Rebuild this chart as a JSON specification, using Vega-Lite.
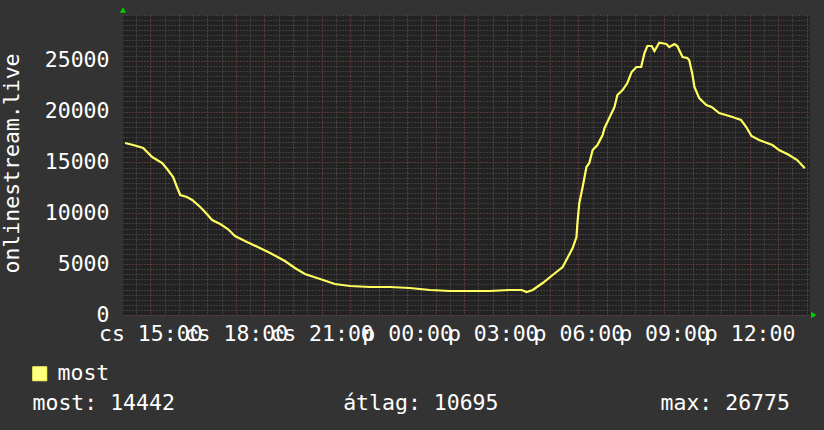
{
  "$schema": "https://vega.github.io/schema/vega-lite/v6.json",
  "width": 687,
  "height": 300,
  "autosize": {"type": "none"},
  "padding": {"left": 123, "top": 15, "right": 14, "bottom": 115},
  "background": "#333333",
  "config": {
    "view": {"fill": "#222222", "stroke": null},
    "axis": {
      "labelFont": "DejaVu Sans Mono",
      "labelFontSize": 21.5,
      "labelColor": "#ffffff",
      "titleFont": "DejaVu Sans Mono",
      "titleFontSize": 21.5,
      "titleColor": "#ffffff",
      "titleFontWeight": "normal",
      "ticks": false,
      "domain": false,
      "labelFlush": false,
      "labelOverlap": false
    },
    "legend": {
      "labelFont": "DejaVu Sans Mono",
      "labelFontSize": 21.5,
      "labelColor": "#ffffff"
    }
  },
  "data": {"values": [
      {"t": "2024-01-11T14:07:00Z", "v": 16913, "series": "most"},
      {"t": "2024-01-11T14:24:00Z", "v": 16716, "series": "most"},
      {"t": "2024-01-11T14:45:00Z", "v": 16421, "series": "most"},
      {"t": "2024-01-11T15:04:00Z", "v": 15536, "series": "most"},
      {"t": "2024-01-11T15:25:00Z", "v": 14946, "series": "most"},
      {"t": "2024-01-11T15:37:00Z", "v": 14258, "series": "most"},
      {"t": "2024-01-11T15:48:00Z", "v": 13570, "series": "most"},
      {"t": "2024-01-11T15:56:00Z", "v": 12586, "series": "most"},
      {"t": "2024-01-11T16:03:00Z", "v": 11800, "series": "most"},
      {"t": "2024-01-11T16:17:00Z", "v": 11603, "series": "most"},
      {"t": "2024-01-11T16:28:00Z", "v": 11308, "series": "most"},
      {"t": "2024-01-11T16:45:00Z", "v": 10620, "series": "most"},
      {"t": "2024-01-11T16:57:00Z", "v": 10030, "series": "most"},
      {"t": "2024-01-11T17:10:00Z", "v": 9341, "series": "most"},
      {"t": "2024-01-11T17:27:00Z", "v": 8948, "series": "most"},
      {"t": "2024-01-11T17:43:00Z", "v": 8456, "series": "most"},
      {"t": "2024-01-11T17:58:00Z", "v": 7768, "series": "most"},
      {"t": "2024-01-11T18:19:00Z", "v": 7276, "series": "most"},
      {"t": "2024-01-11T18:46:00Z", "v": 6686, "series": "most"},
      {"t": "2024-01-11T19:12:00Z", "v": 6096, "series": "most"},
      {"t": "2024-01-11T19:43:00Z", "v": 5310, "series": "most"},
      {"t": "2024-01-11T20:04:00Z", "v": 4622, "series": "most"},
      {"t": "2024-01-11T20:25:00Z", "v": 4032, "series": "most"},
      {"t": "2024-01-11T20:57:00Z", "v": 3540, "series": "most"},
      {"t": "2024-01-11T21:28:00Z", "v": 3048, "series": "most"},
      {"t": "2024-01-11T22:00:00Z", "v": 2852, "series": "most"},
      {"t": "2024-01-11T22:42:00Z", "v": 2753, "series": "most"},
      {"t": "2024-01-11T23:24:00Z", "v": 2753, "series": "most"},
      {"t": "2024-01-12T00:05:00Z", "v": 2655, "series": "most"},
      {"t": "2024-01-12T00:48:00Z", "v": 2458, "series": "most"},
      {"t": "2024-01-12T01:30:00Z", "v": 2360, "series": "most"},
      {"t": "2024-01-12T02:11:00Z", "v": 2360, "series": "most"},
      {"t": "2024-01-12T02:53:00Z", "v": 2360, "series": "most"},
      {"t": "2024-01-12T03:35:00Z", "v": 2458, "series": "most"},
      {"t": "2024-01-12T04:01:00Z", "v": 2458, "series": "most"},
      {"t": "2024-01-12T04:11:00Z", "v": 2262, "series": "most"},
      {"t": "2024-01-12T04:24:00Z", "v": 2458, "series": "most"},
      {"t": "2024-01-12T04:45:00Z", "v": 3147, "series": "most"},
      {"t": "2024-01-12T05:06:00Z", "v": 3933, "series": "most"},
      {"t": "2024-01-12T05:27:00Z", "v": 4720, "series": "most"},
      {"t": "2024-01-12T05:37:00Z", "v": 5605, "series": "most"},
      {"t": "2024-01-12T05:48:00Z", "v": 6588, "series": "most"},
      {"t": "2024-01-12T05:56:00Z", "v": 7670, "series": "most"},
      {"t": "2024-01-12T05:58:00Z", "v": 9046, "series": "most"},
      {"t": "2024-01-12T06:02:00Z", "v": 11013, "series": "most"},
      {"t": "2024-01-12T06:09:00Z", "v": 12586, "series": "most"},
      {"t": "2024-01-12T06:17:00Z", "v": 14553, "series": "most"},
      {"t": "2024-01-12T06:23:00Z", "v": 14946, "series": "most"},
      {"t": "2024-01-12T06:30:00Z", "v": 16224, "series": "most"},
      {"t": "2024-01-12T06:40:00Z", "v": 16716, "series": "most"},
      {"t": "2024-01-12T06:51:00Z", "v": 17700, "series": "most"},
      {"t": "2024-01-12T06:55:00Z", "v": 18388, "series": "most"},
      {"t": "2024-01-12T07:05:00Z", "v": 19371, "series": "most"},
      {"t": "2024-01-12T07:16:00Z", "v": 20453, "series": "most"},
      {"t": "2024-01-12T07:22:00Z", "v": 21633, "series": "most"},
      {"t": "2024-01-12T07:33:00Z", "v": 22124, "series": "most"},
      {"t": "2024-01-12T07:43:00Z", "v": 22813, "series": "most"},
      {"t": "2024-01-12T07:52:00Z", "v": 23894, "series": "most"},
      {"t": "2024-01-12T08:02:00Z", "v": 24386, "series": "most"},
      {"t": "2024-01-12T08:12:00Z", "v": 24386, "series": "most"},
      {"t": "2024-01-12T08:19:00Z", "v": 25763, "series": "most"},
      {"t": "2024-01-12T08:25:00Z", "v": 26451, "series": "most"},
      {"t": "2024-01-12T08:34:00Z", "v": 26451, "series": "most"},
      {"t": "2024-01-12T08:40:00Z", "v": 25960, "series": "most"},
      {"t": "2024-01-12T08:50:00Z", "v": 26775, "series": "most"},
      {"t": "2024-01-12T09:05:00Z", "v": 26647, "series": "most"},
      {"t": "2024-01-12T09:11:00Z", "v": 26352, "series": "most"},
      {"t": "2024-01-12T09:22:00Z", "v": 26647, "series": "most"},
      {"t": "2024-01-12T09:28:00Z", "v": 26451, "series": "most"},
      {"t": "2024-01-12T09:39:00Z", "v": 25369, "series": "most"},
      {"t": "2024-01-12T09:49:00Z", "v": 25271, "series": "most"},
      {"t": "2024-01-12T09:53:00Z", "v": 25074, "series": "most"},
      {"t": "2024-01-12T10:00:00Z", "v": 23599, "series": "most"},
      {"t": "2024-01-12T10:04:00Z", "v": 22419, "series": "most"},
      {"t": "2024-01-12T10:14:00Z", "v": 21338, "series": "most"},
      {"t": "2024-01-12T10:29:00Z", "v": 20649, "series": "most"},
      {"t": "2024-01-12T10:40:00Z", "v": 20453, "series": "most"},
      {"t": "2024-01-12T10:56:00Z", "v": 19863, "series": "most"},
      {"t": "2024-01-12T11:24:00Z", "v": 19469, "series": "most"},
      {"t": "2024-01-12T11:42:00Z", "v": 19174, "series": "most"},
      {"t": "2024-01-12T11:53:00Z", "v": 18486, "series": "most"},
      {"t": "2024-01-12T12:04:00Z", "v": 17601, "series": "most"},
      {"t": "2024-01-12T12:20:00Z", "v": 17208, "series": "most"},
      {"t": "2024-01-12T12:48:00Z", "v": 16716, "series": "most"},
      {"t": "2024-01-12T13:02:00Z", "v": 16224, "series": "most"},
      {"t": "2024-01-12T13:23:00Z", "v": 15733, "series": "most"},
      {"t": "2024-01-12T13:40:00Z", "v": 15241, "series": "most"},
      {"t": "2024-01-12T13:56:00Z", "v": 14442, "series": "most"}
  ]},
  "layer": [
    {
      "mark": {"type": "line", "strokeOpacity": 0},
      "encoding": {
        "x": {
          "field": "t", "type": "temporal",
          "scale": {"type": "utc", "domain": [1704981756000, 1705068420000]},
          "axis": {
            "orient": "bottom", "tickCount": 48, "labels": false,
            "grid": true, "gridColor": "#5a5a5a", "gridDash": [1, 2], "gridWidth": 1,
            "title": "max: 26775",
            "titleX": 537, "titleY": 94, "titleAlign": "left", "titleAnchor": "start", "titleBaseline": "alphabetic"
          }
        },
        "y": {
          "field": "v", "type": "quantitative",
          "scale": {"domain": [0, 29500], "nice": false},
          "axis": {"orient": "left", "tickCount": 59, "labels": false, "title": null, "grid": true, "gridColor": "#5a5a5a", "gridDash": [1, 2], "gridWidth": 1}
        }
      }
    },
    {
      "mark": {"type": "line", "strokeWidth": 2.2},
      "encoding": {
        "x": {
          "field": "t", "type": "temporal",
          "axis": {
            "orient": "bottom",
            "tickCount": 24,
            "grid": true, "gridColor": "#7a3434", "gridDash": [1, 2], "gridWidth": 1,
            "labelExpr": "utchours(datum.value) % 3 == 0 ? ((utcdate(datum.value) == 11 ? 'cs ' : 'p ') + utcFormat(datum.value, '%H:%M')) : ''",
            "labelPadding": 8,
            "title": "most: 14442\u00a0\u00a0\u00a0\u00a0\u00a0\u00a0\u00a0\u00a0\u00a0\u00a0\u00a0\u00a0\u00a0átlag: 10695",
            "titleX": -91, "titleY": 94, "titleAlign": "left", "titleAnchor": "start", "titleBaseline": "alphabetic"
          }
        },
        "y": {
          "field": "v", "type": "quantitative",
          "axis": {
            "orient": "left",
            "values": [0, 5000, 10000, 15000, 20000, 25000],
            "format": "d",
            "grid": true, "gridColor": "#7a3434", "gridDash": [1, 2], "gridWidth": 1,
            "labelPadding": 14,
            "title": "onlinestream.live",
            "titleAngle": -90, "titleX": -111, "titleY": 148, "titleAlign": "center", "titleAnchor": "middle", "titleBaseline": "middle"
          }
        },
        "color": {
          "field": "series", "type": "nominal",
          "scale": {"domain": ["most"], "range": ["#ffff60"]},
          "legend": {
            "title": null, "orient": "none", "legendX": -94, "legendY": 348,
            "symbolType": "square", "symbolSize": 196, "labelOffset": 7,
            "symbolFillColor": "#ffff80", "symbolStrokeColor": "#000000", "symbolStrokeWidth": 1
          }
        }
      }
    },
    {
      "data": {"values": [{"t": 1704981756000, "v": 30000}]},
      "mark": {"type": "point", "shape": "triangle-up", "filled": true, "color": "#00cc00", "size": 40, "clip": false, "opacity": 1},
      "encoding": {
        "x": {"field": "t", "type": "temporal", "axis": null},
        "y": {"field": "v", "type": "quantitative", "axis": null}
      }
    },
    {
      "data": {"values": [{"t": 1705068900000, "v": 0}]},
      "mark": {"type": "point", "shape": "triangle-right", "filled": true, "color": "#00cc00", "size": 40, "clip": false, "opacity": 1},
      "encoding": {
        "x": {"field": "t", "type": "temporal", "axis": null},
        "y": {"field": "v", "type": "quantitative", "axis": null}
      }
    }
  ],
  "resolve": {"axis": {"x": "independent", "y": "independent"}}
}
